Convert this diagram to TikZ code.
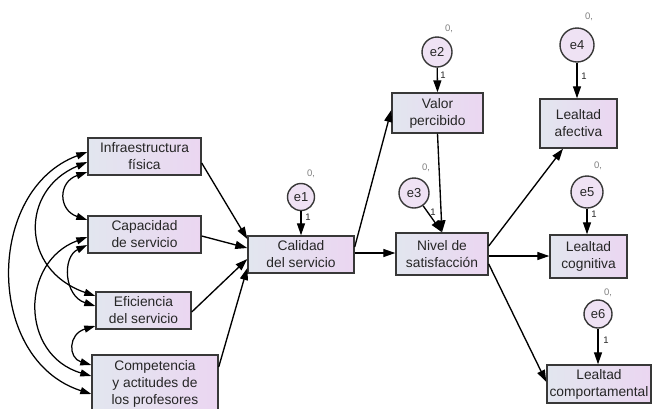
\documentclass[tikz,border=0pt]{standalone}
\usepackage{fontspec}
\setmainfont{Liberation Sans}
\usetikzlibrary{arrows.meta}
\definecolor{boxL}{HTML}{E2E6EF}
\definecolor{boxR}{HTML}{EBD6F1}
\definecolor{circF}{HTML}{EFE2F4}
\definecolor{edgec}{HTML}{383838}
\definecolor{txt}{HTML}{262626}
\begin{document}
\begin{tikzpicture}[x=1pt,y=-1pt,
  var/.style={draw=edgec, line width=1.4pt, left color=boxL, right color=boxR, align=center, inner sep=0pt, font=\fontsize{13.8}{17}\selectfont, text=txt},
  err/.style={circle, draw=edgec, line width=1.4pt, fill=circF, inner sep=0pt, font=\fontsize{13}{14}\selectfont, text=txt},
  reg/.style={line width=1.35pt, -{Triangle[length=12pt,width=8pt]}},
  cov/.style={line width=1.25pt, {Triangle[length=11pt,width=7pt]}-{Triangle[length=11pt,width=7pt]}},
  zlab/.style={font=\fontsize{9.5}{10}\selectfont, text=gray, inner sep=0pt},
  olab/.style={font=\fontsize{9.5}{10}\selectfont, text=txt, inner sep=0pt}]
\useasboundingbox (0,0) rectangle (652,408);

% observed variables
\node[var, minimum width=113pt, minimum height=37pt] (infra) at (144.5,156.5) {Infraestructura\\física};
\node[var, minimum width=113pt, minimum height=37pt] (cap) at (144.5,234.5) {Capacidad\\de servicio};
\node[var, minimum width=95pt, minimum height=37pt] (efic) at (143.5,310.5) {Eficiencia\\del servicio};
\node[var, minimum width=126pt, minimum height=57pt] (comp) at (155,383.5) {Competencia\\y actitudes de\\los profesores};
\node[var, minimum width=106pt, minimum height=37pt] (cal) at (301,254.5) {Calidad\\del servicio};
\node[var, minimum width=91pt, minimum height=40pt] (valor) at (437.5,113) {Valor\\percibido};
\node[var, minimum width=92pt, minimum height=42pt] (nivel) at (442,254) {Nivel de\\satisfacción};
\node[var, minimum width=77pt, minimum height=49pt] (afect) at (578.5,123.5) {Lealtad\\afectiva};
\node[var, minimum width=77pt, minimum height=43pt] (cogn) at (588.5,256.5) {Lealtad\\cognitiva};
\node[var, minimum width=104pt, minimum height=38pt] (compor) at (599,384) {Lealtad\\comportamental};

% error terms
\node[err, minimum size=27pt] (e1) at (301,197) {e1};
\node[err, minimum size=30pt] (e2) at (437,52) {e2};
\node[err, minimum size=30pt] (e3) at (414,193) {e3};
\node[err, minimum size=34pt] (e4) at (577,45) {e4};
\node[err, minimum size=32pt] (e5) at (587,192) {e5};
\node[err, minimum size=28pt] (e6) at (598,314) {e6};

% labels
\node[zlab] (z1) at (311,174) {0,};
\node[zlab] (z2) at (449,29) {0,};
\node[zlab] (z3) at (426,168) {0,};
\node[zlab] (z4) at (589,17) {0,};
\node[zlab] (z5) at (598,166) {0,};
\node[zlab] (z6) at (608,293) {0,};
\node[olab] (o1) at (308,217) {1};
\node[olab] (o2) at (443,75) {1};
\node[olab] (o3) at (433,212) {1};
\node[olab] (o4) at (584,76) {1};
\node[olab] (o5) at (594,214) {1};
\node[olab] (o6) at (606,340) {1};

% error paths
\draw[reg] (e1) -- (cal.north);
\draw[reg] (e2) -- (valor.north);
\draw[reg] (e3) -- (nivel.north);
\draw[reg] (e4) -- (afect.north -| e4);
\draw[reg] (e5) -- (cogn.north -| e5);
\draw[reg] (e6) -- (compor.north -| e6);

% structural paths
\draw[reg] (infra.east |- 0,163) -- (cal.west |- 0,239);
\draw[reg] (cap.east |- 0,236) -- (cal.west |- 0,248);
\draw[reg] (efic.east |- 0,312) -- (cal.west |- 0,259);
\draw[reg] (comp.east |- 0,367) -- (cal.west |- 0,268);
\draw[reg] (cal.east |- 0,247) -- (valor.west |- 0,110);
\draw[reg] (cal.east |- 0,253) -- (nivel.west |- 0,253);
\draw[reg] (valor.south) -- (nivel.north);
\draw[reg] (nivel.east |- 0,246) -- (afect.south -| 563,0);
\draw[reg] (nivel.east |- 0,256) -- (cogn.west |- 0,256);
\draw[reg] (nivel.east |- 0,264) -- (compor.west |- 0,382);

% covariances
\draw[cov] (infra.west |- 0,152) .. controls (-15,190) and (-15,360) .. (comp.west |- 0,394);
\draw[cov] (infra.west |- 0,162) .. controls (20,190) and (20,270) .. (efic.west |- 0,296);
\draw[cov] (infra.west |- 0,172) .. controls (58,182) and (58,210) .. (cap.west |- 0,220);
\draw[cov] (cap.west |- 0,237) .. controls (20,262) and (20,355) .. (comp.west |- 0,376);
\draw[cov] (cap.west |- 0,245) .. controls (62,257) and (64,296) .. (efic.west |- 0,306);
\draw[cov] (efic.west |- 0,326) .. controls (68,334) and (68,358) .. (comp.west |- 0,365);
\end{tikzpicture}
\end{document}
